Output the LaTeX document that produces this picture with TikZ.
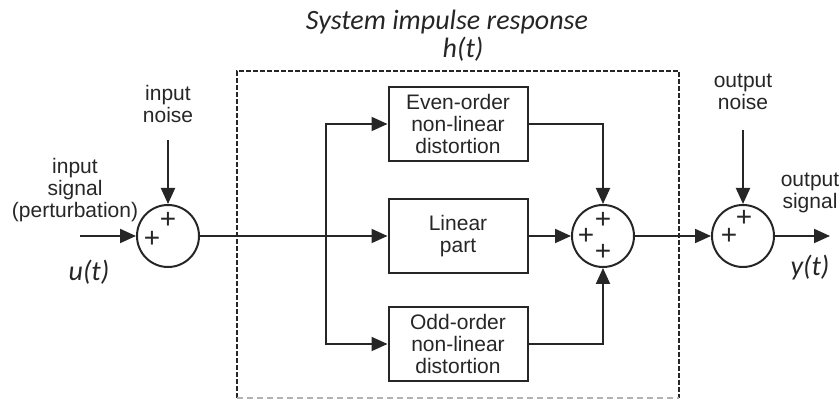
\documentclass[tikz,border=0pt]{standalone}
\usepackage{fontspec}
\setmainfont{Liberation Sans}
\newfontfamily\labelfont{Carlito}
\usetikzlibrary{arrows.meta, positioning}
\tikzstyle{block} = [rectangle, draw, line width=1pt, minimum width=69.5pt, minimum height=37pt, inner sep=0pt, align=center, font=\fontsize{10.5}{11}\selectfont]
\tikzstyle{adder} = [circle, draw, line width=1pt, minimum size=31pt, inner sep=0pt]
\tikzstyle{plusmark} = [inner sep=0pt, font=\fontsize{14}{14}\selectfont]
\tikzstyle{caption} = [align=center, font=\fontsize{10.5}{11}\selectfont]
\tikzstyle{signal} = [align=center, font=\labelfont\itshape\fontsize{14}{14}\selectfont]
\tikzstyle{arrow} = [-{Triangle[length=8pt, width=7pt]}, line width=1pt]
\tikzstyle{frame} = [line width=1pt, dash pattern=on 2.5pt off 1pt]

\begin{document}
\begin{tikzpicture}[x=0.5pt, y=-0.5pt, color=black!85]
    \useasboundingbox (0,0) rectangle (840,399);

        % nodes
        \node (linear) [block] at (458,236) {Linear\\part};
        \node (even) [block, above of=linear, node distance=56pt] {Even-order\\non-linear\\distortion};
        \node (odd) [block, below of=linear, node distance=54pt] {Odd-order\\non-linear\\distortion};
        \node (insum) [adder, left of=linear, node distance=145pt] {};
        \node (sum) [adder, right of=linear, node distance=72.5pt] {};
        \node (outsum) [adder, right of=sum, node distance=70pt] {};
        \node (title) [signal] at (447,36) {System impulse response\\\hspace*{16pt}h(t)};

        % plus marks
        \node (insumtop) [plusmark, yshift=8pt] at (insum) {+};
        \node (insumleft) [plusmark, xshift=-8pt, yshift=-1.5pt] at (insum) {+};
        \node (sumtop) [plusmark, yshift=8pt] at (sum) {+};
        \node (sumleft) [plusmark, xshift=-8.5pt] at (sum) {+};
        \node (sumbottom) [plusmark, yshift=-8pt] at (sum) {+};
        \node (outsumtop) [plusmark, xshift=0.5pt, yshift=9pt] at (outsum) {+};
        \node (outsumleft) [plusmark, xshift=-7pt] at (outsum) {+};

        % signals
        \coordinate (uin) at (80,236);
        \coordinate (split) at (326,236);
        \coordinate (yout) at (830,236);
        \node (insig) [caption] at (75,190) {input\\signal\\(perturbation)};
        \node (utext) [signal] at (89,272) {u(t)};
        \node (innoise) [caption, anchor=south] at (168,130) {input\\noise};
        \node (outnoise) [caption, anchor=south] at (743,117) {output\\noise};
        \node (outsig) [caption] at (810,193) {output\\signal};
        \node (ytext) [signal] at (810,268) {y(t)};

        % frame
        \draw [frame] (237,398) -- (237,71) -- (679,71) -- (679,398);
        \draw [frame, gray!60, dash pattern=on 3pt off 2pt] (237,398) -- (679,398);

        % edges
        \draw [arrow] (uin) -- (insum);
        \draw [arrow, shorten <=5pt] (innoise) -- (insum);
        \draw [arrow] (insum) -- (linear);
        \draw [arrow] (split) |- (even);
        \draw [arrow] (split) |- (odd);
        \draw [arrow] (linear) -- (sum);
        \draw [arrow] (even) -| (sum);
        \draw [arrow] (odd) -| (sum);
        \draw [arrow] (sum) -- (outsum);
        \draw [arrow, shorten <=6.5pt] (outnoise) -- (outsum);
        \draw [arrow] (outsum) -- (yout);

    \end{tikzpicture}
\end{document}
